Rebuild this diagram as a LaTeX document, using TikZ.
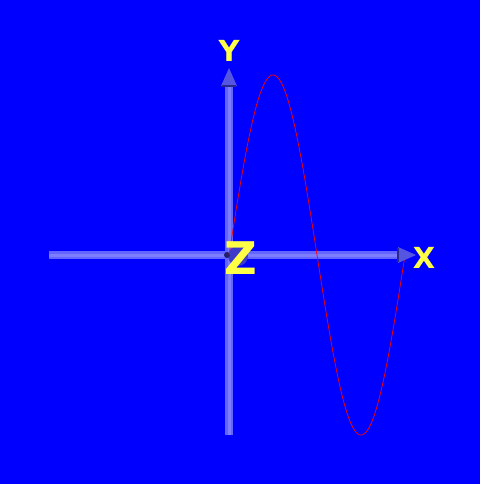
\documentclass[tikz,border=0pt]{standalone}
\usepackage{fontspec}
\setmainfont{DejaVu Sans}
\definecolor{axcol}{RGB}{100,100,255}
\definecolor{axcore}{RGB}{125,125,255}
\definecolor{conecol}{RGB}{85,85,225}
\definecolor{conedark}{RGB}{40,40,140}
\definecolor{sphcol}{RGB}{60,60,200}
\definecolor{sphdark}{RGB}{30,30,110}
\definecolor{lblcol}{RGB}{255,255,70}
\begin{document}
\begin{tikzpicture}[x=1pt,y=-1pt,
  axisline/.style={line width=8pt,draw=axcol},
  axiscore/.style={line width=3pt,draw=axcore},
  conetip/.style={fill=conecol,draw=none},
  conebase/.style={line width=1.5pt,draw=conedark},
  lbl/.style={text=lblcol,inner sep=0pt,font=\bfseries\fontsize{29}{29}\selectfont}]
\fill[blue] (0,0) rectangle (480,484);
\useasboundingbox (0,0) rectangle (480,484);
\coordinate (O) at (229,255);
\coordinate (sph) at (238,256);
\coordinate (xs) at (49,255);
\coordinate (xe) at (398,255);
\coordinate (xt) at (416,255);
\coordinate (ys) at (229,435);
\coordinate (ye) at (229,86);
\coordinate (yt) at (229,68);
% axes
\draw[axisline] (xs) -- (xe);
\draw[axiscore] (xs) -- (xe);
\draw[axisline] (ys) -- (ye);
\draw[axiscore] (ys) -- (ye);
% origin sphere
\fill[sphcol] (sph) circle (10);
\fill[sphdark] (227,255) circle (3);
% curve
\draw[red,line width=0.7pt,domain=0:176,samples=240,smooth] plot ({229+\x},{255-180*sin(2.0454545*\x)});
% arrow cones
\fill[conetip] (xe) ++(0,-8) -- (xt) -- ++(-18,8) -- cycle;
\draw[conebase] ([yshift=-7]xe) -- ([yshift=7]xe);
\fill[conetip] (ye) ++(-8,0) -- (yt) -- ++(8,18) -- cycle;
\draw[conebase] ([xshift=-7]ye) -- ([xshift=7]ye);
% labels
\node[lbl] (ylab) at (229,51) {Y};
\node[lbl] (xlab) at (424,258) {X};
\node[lbl,font=\bfseries\fontsize{45}{45}\selectfont] (zlab) at (241,258) {Z};
\end{tikzpicture}
\end{document}
